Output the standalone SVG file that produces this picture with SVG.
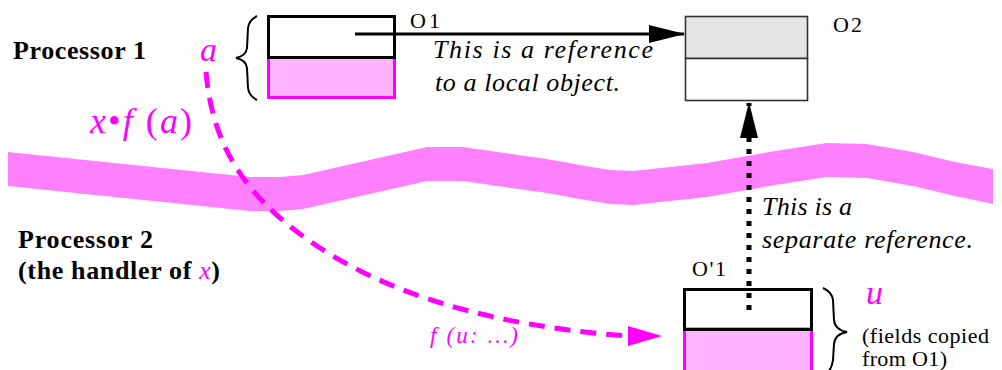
<svg xmlns="http://www.w3.org/2000/svg" width="1002" height="370" viewBox="0 0 1002 370">
<style>
text{font-family:'Liberation Serif',serif;fill:#000}
.bold{font-weight:bold;font-size:26px}
.it{font-style:italic;font-size:26px}
.lbl{font-size:22px}
.note{font-size:22px}
.mg{fill:#ff00ff}
.brace{fill:none;stroke:#000;stroke-width:2}
</style>
<defs>
<marker id="ah" viewBox="0 0 36 18" refX="35" refY="9" markerWidth="36" markerHeight="18" markerUnits="userSpaceOnUse" orient="auto"><path d="M0,0 L36,9 L0,18 Z" fill="#000"/></marker>
</defs>
<rect width="1002" height="370" fill="#fff"/>
<path id="band" fill="#ff80ff" d="M8,152 L250,177 L280,177 L303,175 L427,147 L463,147 L547,159 L580,165 L610,170 L633,171 L707,163 L775,151 L827,143 L867,144 L913,152 L955,162 L993,169 L993,204 L955,196 L913,186 L867,178 L827,177 L775,185 L707,197 L633,205 L610,204 L580,199 L547,193 L463,181 L427,181 L303,209 L280,211 L250,211 L8,186 Z"/>
<g id="processor1-label"><text class="bold" x="13" y="59" textLength="133" lengthAdjust="spacing">Processor 1</text></g>
<g id="processor2-label">
<text class="bold" x="18" y="248" textLength="135" lengthAdjust="spacing">Processor 2</text>
<text class="bold" x="18" y="279" textLength="202" lengthAdjust="spacing">(the handler of <tspan class="mg" font-style="italic" font-weight="normal">x</tspan>)</text>
</g>
<g id="O1">
<rect x="268.5" y="57.5" width="126" height="40" fill="#ffb3ff" stroke="#ff00ff" stroke-width="3"/>
<rect x="268.5" y="16.5" width="126" height="41" fill="none" stroke="#000" stroke-width="3"/>
<text class="lbl" x="410" y="28" textLength="30" lengthAdjust="spacing">O1</text>
<path class="brace" d="M257,16 Q249,20 248,28 L247,48 Q246,56 236,58 Q246,60 247,68 L248,88 Q249,96 257,100"/>
<text class="mg" x="200" y="61" font-size="34" font-style="italic">a</text>
</g>
<g id="O2">
<rect x="685.5" y="16.5" width="122" height="42" fill="#e6e6e6" stroke="#333" stroke-width="1.6"/>
<rect x="685.5" y="58.5" width="122" height="42" fill="#fff" stroke="#333" stroke-width="1.6"/>
<text class="lbl" x="833" y="32" textLength="29" lengthAdjust="spacing">O2</text>
</g>
<g id="O-prime-1">
<rect x="684.5" y="329" width="127" height="44" fill="#ffb3ff" stroke="#ff00ff" stroke-width="3"/>
<rect x="684.5" y="289.5" width="127" height="40" fill="none" stroke="#000" stroke-width="3"/>
<text class="lbl" x="692" y="276" textLength="34" lengthAdjust="spacing">O'1</text>
<path class="brace" d="M823,288 Q832,292 833,300 L834,320 Q835,330 847,332 Q835,334 834,344 L833,360 Q832,368 828,372"/>
<text class="mg" x="866" y="304" font-size="34" font-style="italic">u</text>
<text class="note" x="862" y="343" textLength="127" lengthAdjust="spacing">(fields copied</text>
<text class="note" x="862" y="366" textLength="85" lengthAdjust="spacing">from O1)</text>
</g>
<g id="connectors">
<line x1="355" y1="34" x2="684" y2="34" stroke="#000" stroke-width="3" marker-end="url(#ah)"/>
<line x1="749" y1="310" x2="749" y2="103" stroke="#000" stroke-width="5" stroke-dasharray="5 7" marker-end="url(#ah)"/>
<path d="M206,72 C212,140 240,200 333,256 C390,290 480,325 628,336" fill="none" stroke="#ff00ff" stroke-width="5" stroke-dasharray="16 10"/>
<path d="M628,326 L662,336 L628,346 Z" fill="#ff00ff"/>
</g>
<g id="connector-labels">
<text class="it" x="433" y="58" textLength="220" lengthAdjust="spacing">This is a reference</text>
<text class="it" x="435" y="91" textLength="185" lengthAdjust="spacing">to a local object.</text>
<text class="it" x="762" y="215" textLength="90" lengthAdjust="spacing">This is a</text>
<text class="it" x="762" y="248" textLength="211" lengthAdjust="spacing">separate reference.</text>
<text class="mg" x="430" y="343" font-size="23" font-style="italic" textLength="88" lengthAdjust="spacing">f (u: …)</text>
<text class="mg" x="90" y="133" font-size="36" textLength="102" lengthAdjust="spacing"><tspan font-style="italic">x</tspan>•<tspan font-style="italic">f</tspan> (<tspan font-style="italic">a</tspan>)</text>
</g>
</svg>
